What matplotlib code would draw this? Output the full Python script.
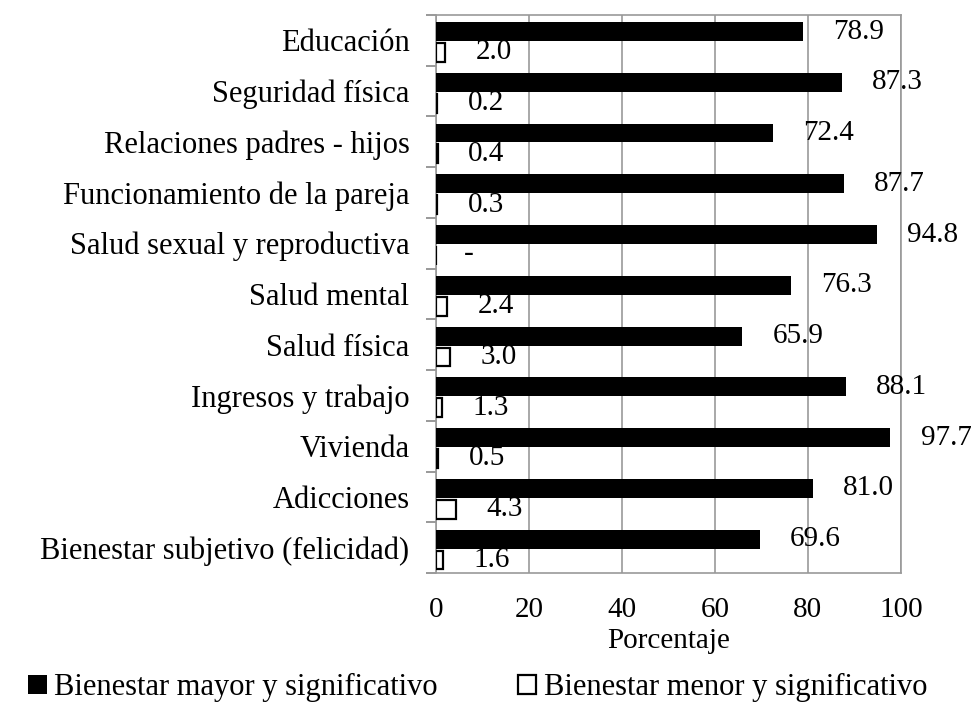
import matplotlib.pyplot as plt
import numpy as np
from matplotlib.ticker import FixedLocator

categories = [
    "Educación",
    "Seguridad física",
    "Relaciones padres - hijos",
    "Funcionamiento de la pareja",
    "Salud sexual y reproductiva",
    "Salud mental",
    "Salud física",
    "Ingresos y trabajo",
    "Vivienda",
    "Adicciones",
    "Bienestar subjetivo (felicidad)",
]
mayor = [78.9, 87.3, 72.4, 87.7, 94.8, 76.3, 65.9, 88.1, 97.7, 81.0, 69.6]
menor = [2.0, 0.2, 0.4, 0.3, np.nan, 2.4, 3.0, 1.3, 0.5, 4.3, 1.6]

plt.rcParams["font.family"] = ["Liberation Serif", "DejaVu Serif"]
fs = 21

fig = plt.figure(figsize=(9.75, 7.05), dpi=100)
ax = fig.add_axes([0.447, 0.187, 0.477, 0.792])

y = np.arange(len(categories))
h = 0.37
ax.barh(y - 0.17, mayor, height=h, color="black", zorder=3,
        label="Bienestar mayor y significativo")
ax.barh(y + 0.24, np.nan_to_num(menor), height=h, color="white",
        edgecolor="black", linewidth=1.6, zorder=3,
        label="Bienestar menor y significativo")

for i, (a, b) in enumerate(zip(mayor, menor)):
    ax.text(a + 12, i - 0.17, f"{a:.1f}", ha="center", va="center",
            fontsize=fs, zorder=4)
    if np.isnan(b):
        ax.text(7, i + 0.22, "-", ha="center", va="center", fontsize=fs, zorder=4)
    else:
        ax.text(b + 10.5, i + 0.24, f"{b:.1f}", ha="center", va="center",
                fontsize=fs, zorder=4)

ax.set_xlim(0, 100)
ax.set_ylim(len(categories) - 0.5, -0.5)
ax.set_xticks([0, 20, 40, 60, 80, 100])
ax.tick_params(axis="x", length=0, pad=17, labelsize=fs)
ax.set_yticks(y)
ax.set_yticklabels(categories)
ax.tick_params(axis="y", which="major", length=0, pad=19, labelsize=22)
ax.yaxis.set_minor_locator(FixedLocator(np.arange(-0.5, len(categories), 1.0)))
ax.tick_params(axis="y", which="minor", length=7, width=1.2, color="#888888")
ax.set_xlabel("Porcentaje", fontsize=fs, labelpad=4)

ax.grid(axis="x", color="#999999", linewidth=1.2, zorder=0)
for spine in ax.spines.values():
    spine.set_color("#999999")
    spine.set_linewidth(1.2)

fig.legend(loc="lower center", bbox_to_anchor=(0.49, -0.035), ncol=2,
           frameon=False, fontsize=fs + 1, handlelength=0.6, handleheight=0.6,
           handletextpad=0.25, columnspacing=2.6)

fig.savefig("out.png", dpi=100)
